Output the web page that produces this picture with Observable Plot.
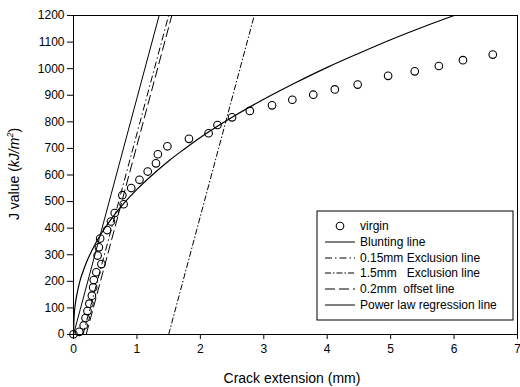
<!DOCTYPE html>
<html>
<head>
<meta charset="utf-8">
<script src="https://cdn.jsdelivr.net/npm/d3@7"></script>
<script src="https://cdn.jsdelivr.net/npm/@observablehq/plot@0.6"></script>
<style>
  html, body { margin: 0; padding: 0; background: #fff; }
  #chart svg { display: block; }
</style>
</head>
<body>
<div id="chart"></div>
<script>
// Virgin specimen data (crack extension mm, J kJ/m^2)
const virginDa = [0.00, 0.09, 0.16, 0.19, 0.22, 0.25, 0.29, 0.31, 0.32, 0.36, 0.44, 0.38, 0.40, 0.42, 0.53, 0.59, 0.65, 0.79, 0.77, 0.91, 1.04, 1.17, 1.30, 1.33, 1.48, 1.82, 2.13, 2.27, 2.50, 2.78, 3.13, 3.45, 3.78, 4.12, 4.48, 4.96, 5.38, 5.76, 6.14, 6.61];
const virginJ  = [1, 10, 34, 62, 88, 116, 146, 177, 205, 234, 265, 297, 328, 361, 393, 425, 457, 490, 524, 551, 582, 613, 644, 678, 708, 736, 757, 788, 817, 841, 862, 883, 902, 922, 940, 973, 990, 1010, 1032, 1053];

// Construction lines (start and end crack extension, J range)
const lineNames  = ["Blunting line", "0.15mm Exclusion line", "1.5mm Exclusion line", "0.2mm offset line"];
const lineStartX = [0, 0.15, 1.5, 0.2];
const lineEndX   = [1.35, 1.50, 2.85, 1.55];
const lineJ      = [0, 1200];

// Power law regression line
const powerDa = [0, 0.01, 0.03, 0.06, 0.1, 0.15, 0.2, 0.3, 0.4, 0.5, 0.65, 0.8, 1.0, 1.25, 1.5, 1.75, 2.0, 2.5, 3.0, 3.5, 4.0, 4.5, 5.0, 5.5, 6.0];
const powerJ  = [0, 70, 117, 158, 200, 237, 269, 321, 365, 402, 452, 495, 546, 602, 653, 698, 741, 817, 885, 947, 1005, 1058, 1109, 1156, 1200];

const xTicks = [0, 1, 2, 3, 4, 5, 6, 7];
const yTicks = [0, 100, 200, 300, 400, 500, 600, 700, 800, 900, 1000, 1100, 1200];
const legendLabels = ["virgin", "Blunting line", "0.15mm Exclusion line", "1.5mm\u00a0\u00a0 Exclusion line", "0.2mm\u00a0 offset line", "Power law regression line"];

const dashes = ["none", "7,3,1.5,3", "6,2,1.5,2", "10,4"];

const virgin = virginDa.map((d, i) => ({x: d, y: virginJ[i]}));
const segs = lineNames.map((n, i) => ({name: n, x1: lineStartX[i], x2: lineEndX[i], y1: lineJ[0], y2: lineJ[1], dash: dashes[i]}));
const power = powerDa.map((d, i) => ({x: d, y: powerJ[i]}));

const plot = Plot.plot({
  width: 520,
  height: 387,
  marginLeft: 73,
  marginRight: 3,
  marginTop: 15,
  marginBottom: 53,
  style: {fontFamily: "'Liberation Sans', Arial, sans-serif", fontSize: "12px", color: "#000", background: "#fff"},
  x: {domain: [0, 7], ticks: xTicks, tickFormat: d => String(d), tickSize: 5, tickPadding: 5, label: null},
  y: {domain: [0, 1200], ticks: yTicks, tickFormat: d => String(d), tickSize: 6, tickPadding: 3, label: null},
  marks: [
    Plot.frame({stroke: "#000", strokeWidth: 1}),
    ...segs.map(s => Plot.link([s], {x1: "x1", y1: "y1", x2: "x2", y2: "y2", stroke: "#000", strokeWidth: 1, strokeDasharray: s.dash})),
    Plot.line(power, {x: "x", y: "y", stroke: "#000", strokeWidth: 1.2, curve: "monotone-x"}),
    Plot.dot(virgin, {x: "x", y: "y", r: 3.8, stroke: "#000", strokeWidth: 1.1, fill: "none"})
  ]
});

document.getElementById("chart").appendChild(plot);

const svg = d3.select(plot);
const font = "'Liberation Sans', Arial, sans-serif";

// Axis titles
svg.append("text")
  .attr("x", 292).attr("y", 383)
  .attr("text-anchor", "middle")
  .attr("font-family", font).attr("font-size", 14)
  .text("Crack extension (mm)");

const yt = svg.append("text")
  .attr("transform", "translate(19,174) rotate(-90)")
  .attr("text-anchor", "middle")
  .attr("font-family", font).attr("font-size", 14);
yt.append("tspan").text("J value (");
yt.append("tspan").attr("font-style", "italic").text("kJ/m");
yt.append("tspan").attr("font-style", "italic").attr("font-size", 9).attr("dy", -6).text("2");
yt.append("tspan").attr("dy", 6).text(")");

// Legend
const lg = svg.append("g").attr("font-family", font).attr("font-size", 12).attr("text-anchor", "start");
lg.append("rect").attr("x", 317).attr("y", 211).attr("width", 196).attr("height", 109)
  .attr("fill", "#fff").attr("stroke", "#000").attr("stroke-width", 1);
const rowY = [226, 242, 258, 273, 289, 305];
legendLabels.forEach((t, i) => {
  const y = rowY[i];
  if (i === 0) {
    lg.append("circle").attr("cx", 340).attr("cy", y).attr("r", 3.8).attr("fill", "none").attr("stroke", "#000").attr("stroke-width", 1.1);
  } else {
    const dash = i <= 4 ? dashes[i - 1] : "none";
    lg.append("line").attr("x1", 325).attr("x2", 355).attr("y1", y).attr("y2", y)
      .attr("stroke", "#000").attr("stroke-width", 1).attr("stroke-dasharray", dash);
  }
  lg.append("text").attr("x", 360).attr("y", y).attr("dy", "0.35em").attr("text-anchor", "start").text(t);
});
</script>
</body>
</html>
